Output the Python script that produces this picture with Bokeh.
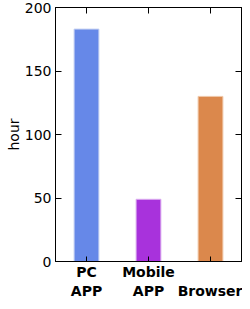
from bokeh.plotting import figure
from bokeh.models import FixedTicker, LinearAxis, Range1d, ColumnDataSource
from bokeh.embed import file_html
from bokeh.resources import INLINE

categories = ["PC\nAPP", "Mobile\nAPP", "\nBrowser"]
hours = [183, 49, 130]
colors = ["#6688e8", "#a832dc", "#db884c"]
edge_colors = ["#c4d0f2", "#dcb0f0", "#f0c8a8"]
y_ticks = [0, 50, 100, 150, 200]

positions = list(range(len(categories)))
src = ColumnDataSource(dict(x=positions, top=hours, color=colors, edge=edge_colors))

p = figure(width=242, height=301, output_backend="svg", toolbar_location=None,
           x_range=Range1d(-0.5, 2.5), y_range=Range1d(0, 200),
           min_border_left=55, min_border_right=1, min_border_top=7, min_border_bottom=0,
           x_axis_location=None, y_axis_location=None)
p.grid.visible = False
p.outline_line_color = "black"
p.outline_line_width = 1
p.background_fill_color = "white"
p.border_fill_color = "white"

p.vbar(x="x", top="top", width=0.4, bottom=0, source=src,
       fill_color="color", line_color="edge", line_width=1)

FONT = "DejaVu Sans"

left = LinearAxis(ticker=FixedTicker(ticks=y_ticks), axis_label="hour")
left.major_tick_in = 6
left.major_tick_out = 0
left.minor_tick_line_color = None
left.major_label_standoff = 4
left.axis_label_standoff = 0
left.major_label_text_font = FONT
left.major_label_text_font_size = "14px"
left.major_label_text_color = "black"
left.axis_label_text_font = FONT
left.axis_label_text_font_size = "14px"
left.axis_label_text_font_style = "normal"
left.axis_label_text_color = "black"
left.axis_line_color = "black"
p.add_layout(left, "left")

right = LinearAxis(ticker=FixedTicker(ticks=y_ticks))
right.major_tick_in = 6
right.major_tick_out = 0
right.minor_tick_line_color = None
right.major_label_text_font_size = "0px"
right.major_label_standoff = 0
right.axis_line_color = "black"
p.add_layout(right, "right")

bottom = LinearAxis(ticker=FixedTicker(ticks=positions))
bottom.major_label_overrides = {i: c for i, c in zip(positions, categories)}
bottom.major_tick_in = 5
bottom.major_tick_out = 0
bottom.minor_tick_line_color = None
bottom.major_label_standoff = 2
bottom.major_label_text_font = FONT
bottom.major_label_text_font_size = "14px"
bottom.major_label_text_font_style = "bold"
bottom.major_label_text_color = "black"
bottom.major_label_text_line_height = 1.2
bottom.axis_line_color = "black"
p.add_layout(bottom, "below")

top = LinearAxis(ticker=FixedTicker(ticks=positions))
top.major_tick_in = 6
top.major_tick_out = 0
top.minor_tick_line_color = None
top.major_label_text_font_size = "0px"
top.major_label_standoff = 0
top.axis_line_color = "black"
p.add_layout(top, "above")

open("out.html", "w").write(file_html(p, INLINE))
